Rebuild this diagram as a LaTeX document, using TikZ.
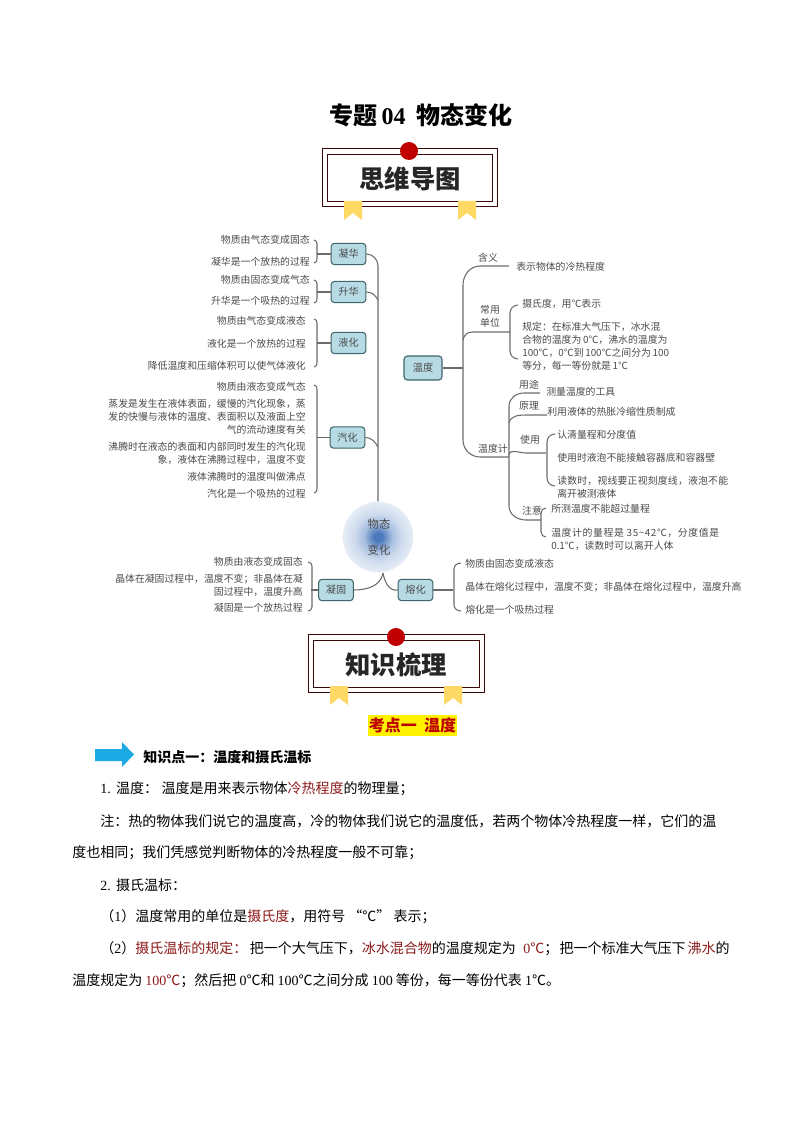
\documentclass[tikz,border=0pt]{standalone}
\usepackage{fontspec}
\setmainfont{Noto Sans CJK SC}
\newfontfamily\latinfont{Liberation Serif}
\usetikzlibrary{arrows.meta, positioning}
\definecolor{boxline}{HTML}{3A0A0A}
\definecolor{knot}{HTML}{C00000}
\definecolor{ribbon}{HTML}{FFD966}
\definecolor{nodefill}{HTML}{B7DBE4}
\definecolor{nodeline}{HTML}{3F6469}
\definecolor{linkgray}{HTML}{6B6B6B}
\definecolor{maptext}{HTML}{4A4A4A}
\definecolor{keyred}{HTML}{8B1A1A}
\definecolor{bluearrow}{HTML}{1DA9E4}
\definecolor{ballcore}{HTML}{4C79BC}
\definecolor{ballmid}{HTML}{A6BEDF}
\definecolor{ballpale}{HTML}{CFDCEE}
\definecolor{balledge}{HTML}{E6EDF6}
\pgfdeclareradialshading{ballglow}{\pgfpoint{0bp}{0bp}}{color(0bp)=(ballcore);color(3bp)=(ballcore);color(10bp)=(ballmid);color(17bp)=(ballpale);color(25bp)=(balledge);color(50bp)=(balledge)}
\tikzset{
	mapbox/.style={draw=nodeline, fill=nodefill, rounded corners=2.5pt, line width=0.8pt, minimum width=26pt, minimum height=16pt, inner sep=0pt, text=maptext, font=\fontsize{7.6}{9.75}\selectfont},
	link/.style={draw=linkgray, line width=0.8pt},
	lefttext/.style={anchor=east, align=right, inner sep=0pt, text=maptext, font=\fontsize{7.4}{9.75}\selectfont},
	righttext/.style={anchor=west, align=left, inner sep=0pt, text=maptext, font=\fontsize{7.4}{9.75}\selectfont},
	midtext/.style={inner sep=0pt, align=center, text=maptext, font=\fontsize{7.4}{9.75}\selectfont},
	frameout/.style={draw=boxline, line width=0.75pt},
	bigtitle/.style={inner sep=0pt, font=\fontsize{19}{22}\bfseries\selectfont, text=black!85},
	bodyline/.style={anchor=west, inner sep=0pt, font=\fontsize{10.5}{12}\selectfont}
}
\newcommand{\hot}[1]{\textcolor{keyred}{#1}}
\begin{document}
\begin{tikzpicture}[x=0.75pt, y=-0.75pt]
	\useasboundingbox (0,0) rectangle (794,1123);

	\node[inner sep=0pt, font=\fontsize{18}{20}\bfseries\selectfont] (title) at (421,115) {专题\,{\latinfont 04}\ \ 物态变化};

	% heading boxes
	\draw[frameout] (322,149) rectangle (497,207);
	\draw[frameout] (327,155) rectangle (492,202);
	\foreach \x in {344,458} \fill[ribbon] (\x,201) -- ++(18,0) -- ++(0,19) -- ++(-9,-7) -- ++(-9,7) -- cycle;
	\node[circle, fill=knot, minimum size=13.5pt, inner sep=0pt] (knota) at (409,151) {};
	\node[bigtitle] (maptitle) at (410,179) {思维导图};

	\draw[frameout] (308,634) rectangle (484,692);
	\draw[frameout] (313,640) rectangle (479,687);
	\foreach \x in {330,444} \fill[ribbon] (\x,686) -- ++(18,0) -- ++(0,19) -- ++(-9,-7) -- ++(-9,7) -- cycle;
	\node[circle, fill=knot, minimum size=13.5pt, inner sep=0pt] (knotb) at (396,637) {};
	\node[bigtitle] (sorttitle) at (396,665) {知识梳理};

	% centre
	\node[circle, shading=ballglow, minimum size=53pt, inner sep=0pt] (ball) at (378,537) {};
	\node[inner sep=0pt, text=maptext, font=\fontsize{8.5}{10}\selectfont] (balla) at (379,524) {物态};
	\node[inner sep=0pt, text=maptext, font=\fontsize{8.5}{10}\selectfont] (ballb) at (379,550) {变化};

	% left side
	\node[mapbox] (ninghua) at (348.5,254) {凝华};
	\node[mapbox] (shenghua) at (348.5,292) {升华};
	\node[mapbox] (yehua) at (348.5,343) {液化};
	\node[mapbox] (qihua) at (347.5,437.5) {汽化};
	\node[mapbox] (ninggu) at (336,590) {凝固};
	\node[mapbox] (ronghua) at (415.5,590) {熔化};
	\node[mapbox, minimum width=28.5pt, minimum height=18pt] (wendu) at (423,368) {温度};

	\coordinate (trunktop) at (378,266);
	\coordinate (shengjoin) at (378,300);
	\coordinate (qijoin) at (378,447);
	\coordinate (stem) at (383,573);
	\draw[link] (ninghua.east) to[out=0,in=90] (trunktop) -- (ball.north);
	\draw[link] (shenghua.east) to[out=0,in=120] (shengjoin);
	\draw[link] (qihua.east) to[out=0,in=120] (qijoin);
	\draw[link] (ninggu.east) to[out=0,in=-100] (stem);
	\draw[link] (ronghua.west) to[out=190,in=-80] (stem);

	\node[lefttext] (nha) at (310,240) {物质由气态变成固态};
	\node[lefttext] (nhb) at (310,262) {凝华是一个放热的过程};
	\node[lefttext] (sha) at (310,279.5) {物质由固态变成气态};
	\node[lefttext] (shb) at (310,301) {升华是一个吸热的过程};
	\node[lefttext] (yha) at (306,321) {物质由气态变成液态};
	\node[lefttext] (yhb) at (306,343.5) {液化是一个放热的过程};
	\node[lefttext] (yhc) at (306,366) {降低温度和压缩体积可以使气体液化};
	\node[lefttext] (qha) at (306,387) {物质由液态变成气态};
	\node[lefttext] (qhb) at (306,417) {蒸发是发生在液体表面，缓慢的汽化现象，蒸\\发的快慢与液体的温度、表面积以及液面上空\\气的流动速度有关};
	\node[lefttext] (qhc) at (306,453.5) {沸腾时在液态的表面和内部同时发生的汽化现\\象，液体在沸腾过程中，温度不变};
	\node[lefttext] (qhd) at (306,477) {液体沸腾时的温度叫做沸点};
	\node[lefttext] (qhe) at (306,494) {汽化是一个吸热的过程};
	\node[lefttext] (nga) at (303,562) {物质由液态变成固态};
	\node[lefttext] (ngb) at (303,585.5) {晶体在凝固过程中，温度不变；非晶体在凝\\固过程中，温度升高};
	\node[lefttext] (ngc) at (303,608) {凝固是一个放热过程};

	\coordinate (nhtop) at (314,240);
	\coordinate (nhbot) at (314,263);
	\coordinate (shtop) at (314,280);
	\coordinate (shbot) at (314,303);
	\coordinate (yhtop) at (314,319);
	\coordinate (yhbot) at (314,367);
	\coordinate (qhtop) at (314,385);
	\coordinate (qhbot) at (314,493);
	\coordinate (ngtop) at (308,562);
	\coordinate (ngbot) at (308,611);
	\draw[link] (nhtop) to[out=0,in=90] ++(3,4) -- ++(0,15) to[out=-90,in=0] (nhbot);
	\draw[link] (shtop) to[out=0,in=90] ++(3,4) -- ++(0,15) to[out=-90,in=0] (shbot);
	\draw[link] (yhtop) to[out=0,in=90] ++(3,4) -- ++(0,40) to[out=-90,in=0] (yhbot);
	\draw[link] (qhtop) to[out=0,in=90] ++(3,4) -- ++(0,100) to[out=-90,in=0] (qhbot);
	\draw[link] (ngtop) to[out=0,in=90] ++(4,4) -- ++(0,41) to[out=-90,in=0] (ngbot);
	\draw[link] (ninghua.west) -- ++(-14,0);
	\draw[link] (shenghua.west) -- ++(-14,0);
	\draw[link] (yehua.west) -- ++(-14,0);
	\draw[link] (qihua.west) -- ++(-13,0);
	\draw[link] (ninggu.west) -- ++(-7,0);

	% right side
	\coordinate (hanyi) at (509,266);
	\coordinate (danwei) at (510,332);
	\coordinate (wenduji) at (509,457);
	\coordinate (yongtu) at (540,393);
	\coordinate (yuanli) at (547,415);
	\coordinate (shiyong) at (546,453);
	\coordinate (zhuyi) at (541,520);
	\coordinate (splita) at (463,368);
	\coordinate (splitb) at (463,340);
	\coordinate (subb) at (509,455);
	\coordinate (subc) at (509,423);

	\draw[link] (wendu.east) -- (splita);
	\draw[link] (hanyi) -- (480,266) to[out=180,in=90] (463,285) -- (463,440) to[out=-90,in=180] (480,457) -- (wenduji);
	\draw[link] (danwei) -- (472,332) to[out=180,in=80] (splitb);
	\draw[link] (yongtu) -- (524,393) to[out=180,in=90] (509,406) -- (509,506) to[out=-90,in=180] (526,520) -- (zhuyi);
	\draw[link] (yuanli) -- (526,415) to[out=180,in=80] (subc);
	\draw[link] (shiyong) -- (526,453) to[out=180,in=80] (subb);

	\coordinate (dwtop) at (518,305);
	\coordinate (dwbot) at (518,359);
	\coordinate (sytop) at (555,434);
	\coordinate (sybot) at (555,486);
	\coordinate (zytop) at (546,508);
	\coordinate (zybot) at (546,537);
	\coordinate (rhtop) at (461,563);
	\coordinate (rhbot) at (461,611);
	\draw[link] (dwtop) to[out=180,in=90] ++(-8,8) -- ++(0,38) to[out=-90,in=180] (dwbot);
	\draw[link] (sytop) to[out=180,in=90] ++(-8,8) -- ++(0,36) to[out=-90,in=180] (sybot);
	\draw[link] (zytop) to[out=180,in=90] ++(-5,5) -- ++(0,19) to[out=-90,in=180] (zybot);
	\draw[link] (rhtop) to[out=180,in=90] ++(-7,6) -- ++(0,36) to[out=-90,in=180] (rhbot);
	\draw[link] (ronghua.east) -- ++(20,0);

	\node[midtext] (hanyilab) at (488,258) {含义};
	\node[midtext] (changyong) at (490,310) {常用};
	\node[midtext] (danweilab) at (490,323) {单位};
	\node[midtext] (wendujilab) at (493,449) {温度计};
	\node[midtext] (yongtulab) at (529,385) {用途};
	\node[midtext] (yuanlilab) at (529,406) {原理};
	\node[midtext] (shiyonglab) at (530,440) {使用};
	\node[midtext] (zhuyilab) at (532,511) {注意};

	\node[righttext] (wda) at (516,267) {表示物体的冷热程度};
	\node[righttext] (wdb) at (522,304) {摄氏度，用℃表示};
	\node[righttext] (wdc) at (522,346.5) {规定：在标准大气压下，冰水混\\合物的温度为\,0℃，沸水的温度为\\100℃，0℃到\,100℃之间分为\,100\\等分，每一等份就是\,1℃};
	\node[righttext] (wdd) at (546,392) {测量温度的工具};
	\node[righttext] (wde) at (547,412) {利用液体的热胀冷缩性质制成};
	\node[righttext] (wdf) at (557,435) {认清量程和分度值};
	\node[righttext] (wdg) at (557,458) {使用时液泡不能接触容器底和容器壁};
	\node[righttext] (wdh) at (557,487.5) {{\addfontfeature{LetterSpace=2}读数时，视线要正视刻度线，液泡不能}\\离开被测液体};
	\node[righttext] (wdi) at (551,509) {所测温度不能超过量程};
	\node[righttext] (wdj) at (551,539.5) {{\addfontfeature{LetterSpace=6}温度计的量程是 35\textasciitilde 42℃，分度值是}\\0.1℃，读数时可以离开人体};
	\node[righttext] (rha) at (465,564) {物质由固态变成液态};
	\node[righttext] (rhb) at (465,587) {晶体在熔化过程中，温度不变；非晶体在熔化过程中，温度升高};
	\node[righttext] (rhc) at (465,610) {熔化是一个吸热过程};

	% text part
	\node[fill=yellow, minimum width=66.75pt, minimum height=15.75pt, inner sep=0pt, text=red!75!black, font=\fontsize{12}{14}\bfseries\selectfont] (kaodian) at (412.5,725.5) {考点一\ \ 温度};
	\fill[bluearrow] (95,749) -- (122,749) -- (122,742) -- (134,754.5) -- (122,767) -- (122,761) -- (95,761) -- cycle;
	\node[bodyline, font=\fontsize{10.5}{12}\bfseries\selectfont] (pointa) at (143,757) {知识点一：温度和摄氏温标};

	\node[bodyline] (linea) at (100,789) {{\latinfont 1.}\ \,温度：\hspace{2.5pt}温度是用来表示物体\hot{冷热程度}的物理量；};
	\node[bodyline] (lineb) at (100,821) {注：热的物体我们说它的温度高，冷的物体我们说它的温度低，若两个物体冷热程度一样，它们的温};
	\node[bodyline] (linec) at (72,853) {度也相同；我们凭感觉判断物体的冷热程度一般不可靠；};
	\node[bodyline] (lined) at (100,885) {{\latinfont 2.}\ \,摄氏温标：};
	\node[bodyline] (linee) at (100,917) {（{\latinfont 1}）温度常用的单位是\hot{摄氏度}，用符号 “℃” 表示；};
	\node[bodyline] (linef) at (100,949) {（{\latinfont 2}）\hot{摄氏温标的规定：}\hspace{2pt}把一个大气压下，\hot{冰水混合物}的温度规定为\hspace{5.5pt}\hot{{\latinfont 0}℃}；\hspace{1pt}把一个标准大气压下\hspace{1.5pt}\hot{沸水}的};
	\node[bodyline] (lineg) at (72,981) {温度规定为 \hot{{\latinfont 100}℃}；然后把 {\latinfont 0}℃和 {\latinfont 100}℃之间分成 {\latinfont 100} 等份，每一等份代表 {\latinfont 1}℃。};
\end{tikzpicture}
\end{document}
